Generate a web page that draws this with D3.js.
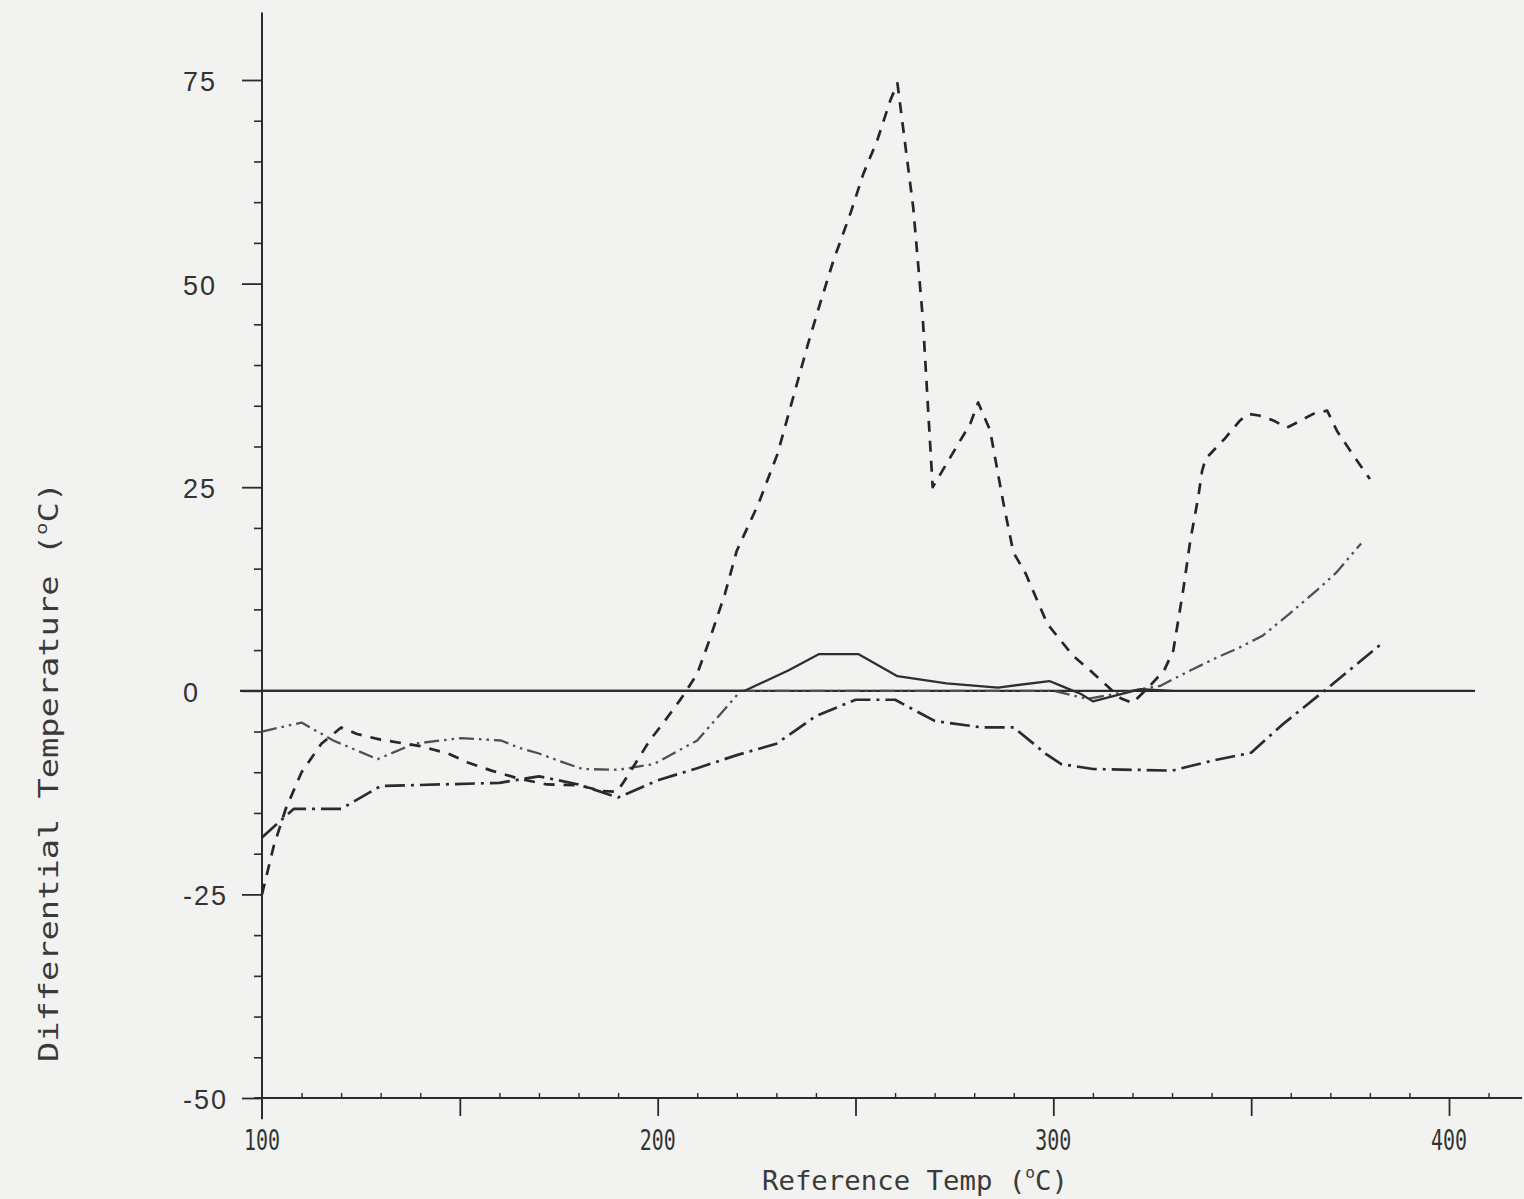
<!DOCTYPE html>
<html>
<head>
<meta charset="utf-8">
<script src="https://cdn.jsdelivr.net/npm/d3@7/dist/d3.min.js"></script>
<style>
  html, body { margin: 0; padding: 0; background: #f2f2f0; }
  svg { display: block; }
</style>
</head>
<body>
<svg id="chart" width="1524" height="1199"></svg>
<script>
// ---------------- DATA ----------------
const xTickLabels = [100, 200, 300, 400];
const yTickLabels = [-50, -25, 0, 25, 50, 75];

// dashed curve (large exotherm peak near 260)
const dashedSeries = [
  [100,-25],[103,-19],[106,-14.5],[110,-10],[115,-6.5],[120,-4.5],[124,-5.3],[130,-6],
  [140,-6.8],[147,-7.7],[152,-8.8],[158,-9.8],[165,-10.8],[172,-11.5],[180,-11.6],
  [186,-12.3],[189.5,-12.4],[191,-11.5],[194,-9.2],[198,-6.1],[201.5,-3.9],[206,-0.9],
  [210,2.1],[213,6.1],[217,11.9],[220,17.2],[225.5,23],[230.3,29.1],[234,35.6],[238,42.6],
  [240.7,47],[244.4,52.8],[248.7,58.6],[252,63.5],[255.5,67.6],[258.8,72.5],[260.6,74.6],
  [264.6,59.3],[267,45.8],[269.5,25],[279,32.8],[281,35.4],[284,32],[287.4,23],[289.9,17],
  [293,14.4],[298.5,8.2],[305,4.3],[310,2.2],[317,-0.9],[320,-1.5],[324,0.4],[328,2.5],
  [330.3,4.9],[332.8,12.3],[334.6,18.4],[336.6,23.7],[337.6,27],[338.5,28.5],[343.4,31],
  [347.2,33.2],[349.2,34],[352,33.8],[355.6,33.2],[359,32.3],[361,32.8],[365.7,34],
  [369.2,34.4],[371.7,31.9],[375,29.5],[380,26]
];

// solid curve (small hump near 245)
const solidSeries = [
  [100,0],[222,0],[233,2.5],[240.7,4.5],[250.8,4.5],[260.6,1.8],[273,0.9],[286,0.4],
  [299,1.2],[302,0.6],[307,-0.4],[310,-1.3],[322,0.2],[330,0]
];

// dash-dot curve (lowest curve)
const dashDotSeries = [
  [100,-18],[108,-14.5],[120,-14.5],[130,-11.7],[160,-11.3],[170,-10.5],[180,-11.5],
  [190,-13.1],[200,-11],[210,-9.5],[220,-7.9],[230,-6.5],[240,-3.1],[250,-1.1],[260,-1.1],
  [270,-3.7],[282,-4.5],[290,-4.5],[298,-7.7],[302,-9],[310,-9.6],[330,-9.8],[340,-8.6],
  [350,-7.6],[358,-4.1],[369,0.2],[383,5.8]
];

// dash-dot-dot curve (faint)
const dashDotDotSeries = [
  [100,-5],[110,-3.9],[118,-6.1],[129.2,-8.4],[138.4,-6.5],[150.3,-5.8],[160.4,-6.1],
  [165,-7],[170,-7.7],[175,-8.6],[181,-9.6],[190,-9.7],[199,-9],[210,-6.1],[221,0],
  [240,0],[260,0],[280,0],[300,0],[308.6,-1],[322,0.2],[327,0.6],[334.6,2.5],[341.4,4.1],
  [347,5.3],[353,6.8],[359.8,9.5],[366.5,12.3],[371.5,14.5],[377.8,18.1]
];

// ---------------- CHART ----------------
const svg = d3.select("#chart");
const ink = "#2b2b2b";

const x = d3.scaleLinear().domain([100, 400]).range([262, 1449]);
const y = d3.scaleLinear().domain([-50, 75]).range([1098, 80]);

// y axis: minor ticks every 5, major every 25
const yMinor = d3.range(-50, 76, 5).filter(v => v % 25 !== 0);
svg.append("g")
  .attr("transform", `translate(${x(100)},0)`)
  .call(d3.axisLeft(y).tickValues(yMinor).tickSize(8).tickFormat(""))
  .call(g => g.select(".domain").remove())
  .call(g => g.selectAll("line").attr("stroke", ink).attr("stroke-width", 1.6));
svg.append("g")
  .attr("transform", `translate(${x(100)},0)`)
  .call(d3.axisLeft(y).tickValues(yTickLabels).tickSize(20).tickFormat(""))
  .call(g => g.select(".domain").remove())
  .call(g => g.selectAll("line").attr("stroke", ink).attr("stroke-width", 1.8));

// y axis line (extends slightly beyond the data range)
svg.append("line")
  .attr("x1", x(100)).attr("x2", x(100))
  .attr("y1", y(83.3)).attr("y2", y(-52.6))
  .attr("stroke", ink).attr("stroke-width", 2);

// y tick labels (left aligned, as typed on the original)
svg.append("g").selectAll("text")
  .data(yTickLabels).join("text")
  .attr("x", 183)
  .attr("y", d => y(d) + 11)
  .attr("font-family", "Liberation Sans, Arial, sans-serif")
  .attr("font-size", 27)
  .attr("letter-spacing", 2)
  .attr("fill", "#333")
  .text(d => d);

// x axis: tiny ticks every 10, longer ticks every 50
const xSmall = d3.range(110, 420, 10).filter(v => v % 50 !== 0);
svg.append("g")
  .attr("transform", `translate(0,${y(-50)})`)
  .call(d3.axisBottom(x).tickValues(xSmall).tickSize(-5).tickFormat(""))
  .call(g => g.select(".domain").remove())
  .call(g => g.selectAll("line").attr("stroke", ink).attr("stroke-width", 1.4));
svg.append("g")
  .attr("transform", `translate(0,${y(-50)})`)
  .call(d3.axisBottom(x).tickValues(d3.range(150, 401, 50)).tickSize(18).tickFormat(""))
  .call(g => g.select(".domain").remove())
  .call(g => g.selectAll("line").attr("stroke", ink).attr("stroke-width", 1.8));

// x axis line
svg.append("line")
  .attr("x1", x(98)).attr("x2", 1522)
  .attr("y1", y(-50)).attr("y2", y(-50))
  .attr("stroke", ink).attr("stroke-width", 2);

// x tick labels (narrow plotter digits)
svg.append("g").selectAll("text")
  .data(xTickLabels).join("text")
  .attr("x", d => x(d) - 18)
  .attr("y", y(-50) + 52)
  .attr("font-family", "DejaVu Sans Mono, monospace")
  .attr("font-size", 28)
  .attr("textLength", 36)
  .attr("lengthAdjust", "spacingAndGlyphs")
  .attr("fill", "#333")
  .text(d => d);

// zero reference line
svg.append("line")
  .attr("x1", 240).attr("x2", 1475)
  .attr("y1", y(0)).attr("y2", y(0))
  .attr("stroke", ink).attr("stroke-width", 2.2);

// curves
const line = d3.line().x(d => x(d[0])).y(d => y(d[1]));
const curves = [
  { data: dashDotDotSeries, dash: "15,5,2.5,5,2.5,5", color: "#505050", width: 2.3 },
  { data: solidSeries,      dash: null,               color: "#2f2f2f", width: 2.3 },
  { data: dashDotSeries,    dash: "20,6,3,6",         color: "#2b2b2b", width: 2.7 },
  { data: dashedSeries,     dash: "11,9",             color: "#262626", width: 2.7 }
];
svg.append("g").selectAll("path")
  .data(curves).join("path")
  .attr("d", d => line(d.data))
  .attr("fill", "none")
  .attr("stroke", d => d.color)
  .attr("stroke-width", d => d.width)
  .attr("stroke-dasharray", d => d.dash)
  .attr("stroke-linejoin", "round");

// axis titles
const yTitle = svg.append("text")
  .attr("transform", "translate(58,1062) rotate(-90)")
  .attr("font-family", "DejaVu Sans Mono, monospace")
  .attr("font-size", 26)
  .attr("fill", "#3a3a3a")
  .attr("textLength", 580)
  .attr("lengthAdjust", "spacingAndGlyphs");
yTitle.append("tspan").text("Differential Temperature (");
yTitle.append("tspan").attr("font-size", 16).attr("dy", -11).text("o");
yTitle.append("tspan").attr("dy", 11).text("C)");

const xTitle = svg.append("text")
  .attr("x", 762).attr("y", 1190)
  .attr("font-family", "DejaVu Sans Mono, monospace")
  .attr("font-size", 27)
  .attr("fill", "#3a3a3a")
  .attr("textLength", 306)
  .attr("lengthAdjust", "spacingAndGlyphs");
xTitle.append("tspan").text("Reference Temp (");
xTitle.append("tspan").attr("font-size", 16).attr("dy", -12).text("o");
xTitle.append("tspan").attr("dy", 12).text("C)");
</script>
</body>
</html>
